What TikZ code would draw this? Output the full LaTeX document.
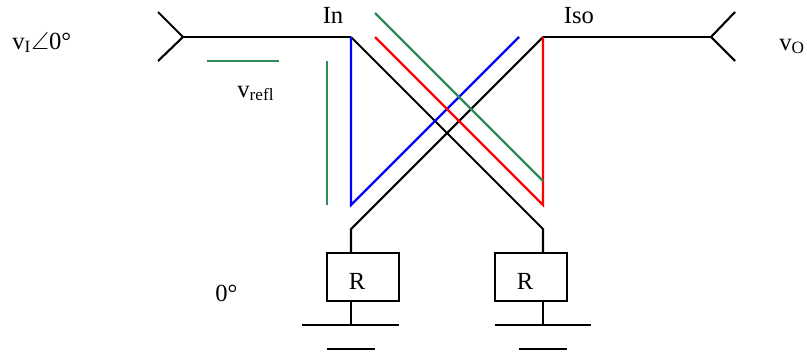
\documentclass[tikz,border=0pt]{standalone}
\usepackage{amsmath,amssymb}
\usepackage{fontspec}
\setmainfont{Liberation Serif}
\usepackage{xcolor}
\usepackage{tikz}
\usetikzlibrary{positioning}
\definecolor{reflgreen}{RGB}{46,139,87}
\definecolor{pathblue}{RGB}{0,0,255}
\definecolor{pathred}{RGB}{255,0,0}

\begin{document}
\begin{tikzpicture}[
    wire/.style={draw=black, line width=1.2pt},
    feed/.style={draw=black, line width=1.6pt},
    thin wire/.style={draw=black, line width=0.8pt},
    bluepath/.style={draw=pathblue, line width=1.3pt},
    redpath/.style={draw=pathred, line width=1.3pt},
    greenpath/.style={draw=reflgreen, line width=1.3pt},
    res/.style={rectangle, draw, line width=1.2pt, minimum width=1.44cm, minimum height=0.96cm, inner sep=0pt},
    lab/.style={font=\fontsize{14}{16}\selectfont, inner sep=0pt},
]
\useasboundingbox (0,0) rectangle (16.14,7.12);

% ports
\coordinate (portl) at (3.66,6.38);
\coordinate (portla) at (3.16,6.88);
\coordinate (portlb) at (3.16,5.90);
\coordinate (feedl) at (6.06,6.38);
\coordinate (in) at (7.02,6.38);
\coordinate (iso) at (10.86,6.38);
\coordinate (feedr) at (12.30,6.38);
\coordinate (portr) at (14.22,6.38);
\coordinate (portra) at (14.70,6.88);
\coordinate (portrb) at (14.70,5.90);

% lower corners of the cross
\coordinate (cornl) at (7.02,2.54);
\coordinate (cornr) at (10.86,2.54);
\node[res] (res1) at (7.26,1.58) {};
\node[res] (res2) at (10.62,1.58) {};
\coordinate (gnd1) at (7.02,0.62);
\coordinate (gnd2) at (10.86,0.62);
\coordinate (gnd1a) at (6.04,0.62);
\coordinate (gnd1b) at (7.98,0.62);
\coordinate (gnd1c) at (6.54,0.14);
\coordinate (gnd1d) at (7.50,0.14);
\coordinate (gnd2a) at (9.90,0.62);
\coordinate (gnd2b) at (11.82,0.62);
\coordinate (gnd2c) at (10.38,0.14);
\coordinate (gnd2d) at (11.34,0.14);

% coloured paths
\coordinate (bluel) at (7.02,3.02);
\coordinate (bluee) at (10.38,6.38);
\coordinate (redr) at (10.86,3.02);
\coordinate (rede) at (7.50,6.38);
\coordinate (greena) at (7.50,6.86);
\coordinate (greenb) at (10.86,3.50);
\coordinate (greenc) at (6.54,5.90);
\coordinate (greend) at (6.54,3.02);
\coordinate (greene) at (4.14,5.90);
\coordinate (greenf) at (5.58,5.90);

\draw[wire] (portla) -- (portl) -- (portlb);
\draw[feed] (portl) -- (feedl);
\draw[thin wire] (feedl) -- (in);
\draw[thin wire] (iso) -- (feedr);
\draw[feed] (feedr) -- (portr);
\draw[wire] (portra) -- (portr) -- (portrb);

\draw[wire] (in) -- (cornr) -- (cornr |- res2.north);
\draw[wire] (iso) -- (cornl) -- (cornl |- res1.north);
\draw[wire] (cornl |- res1.south) -- (gnd1);
\draw[wire] (cornr |- res2.south) -- (gnd2);
\draw[wire] (gnd1a) -- (gnd1b);
\draw[wire] (gnd1c) -- (gnd1d);
\draw[wire] (gnd2a) -- (gnd2b);
\draw[wire] (gnd2c) -- (gnd2d);

\draw[bluepath] (in) -- (bluel) -- (bluee);
\draw[redpath] (iso) -- (redr) -- (rede);
\draw[greenpath] (greena) -- (greenb);
\draw[greenpath] (greenc) -- (greend);
\draw[greenpath] (greene) -- (greenf);

\node[lab, anchor=base] (res1lab) at (7.14,1.34) {R};
\node[lab, anchor=base] (res2lab) at (10.50,1.34) {R};
\node[lab, anchor=base west] (vi) at (0.24,6.14) {v\textsubscript{I}$\angle$0°};
\node[lab, anchor=base west] (vo) at (15.58,6.12) {v\textsubscript{O}};
\node[lab, anchor=base west] (vrefl) at (4.74,5.18) {v\textsubscript{refl}};
\node[lab, anchor=base] (inlab) at (6.66,6.66) {In};
\node[lab, anchor=base] (isolab) at (11.58,6.66) {Iso};
\node[lab, anchor=base west] (deg) at (4.30,1.10) {0°};
\end{tikzpicture}
\end{document}
